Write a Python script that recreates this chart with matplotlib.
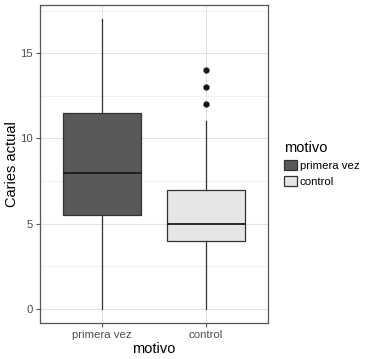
import matplotlib
matplotlib.use("Agg")
import matplotlib.pyplot as plt
from matplotlib.patches import Rectangle

categories = ["primera vez", "control"]
q1 = [5.5, 4.0]
median = [8.0, 5.0]
q3 = [11.5, 7.0]
whisk_lo = [0.0, 0.0]
whisk_hi = [17.0, 11.0]
outliers = [[], [12, 13, 14]]
fills = ["#595959", "#E6E6E6"]
yticks = [0, 5, 10, 15]

plt.rcParams['font.family'] = ['Liberation Sans', 'DejaVu Sans']

fig = plt.figure(figsize=(3.73, 3.59), dpi=100)
ax = fig.add_axes([40/373, 1-323/359, 228/373, 318/359])

stats = []
for i, c in enumerate(categories):
    stats.append(dict(label=c, q1=q1[i], med=median[i], q3=q3[i],
                      whislo=whisk_lo[i], whishi=whisk_hi[i], fliers=outliers[i]))
bp = ax.bxp(stats, positions=[1, 2], widths=0.75, patch_artist=True,
            showcaps=False,
            boxprops=dict(edgecolor="#333333", linewidth=0.9),
            medianprops=dict(color="#1a1a1a", linewidth=1.3),
            whiskerprops=dict(color="#333333", linewidth=0.9),
            flierprops=dict(marker="o", markerfacecolor="#1a1a1a",
                            markeredgecolor="#1a1a1a", markersize=3.5))
for patch, f in zip(bp["boxes"], fills):
    patch.set_facecolor(f)
for m in bp["medians"]:
    m.set_zorder(4)

ax.set_xlim(0.4, 2.6)
ax.set_ylim(-0.85, 17.85)
ax.set_yticks(yticks)
ax.set_yticks([2.5, 7.5, 12.5, 17.5], minor=True)
ax.set_xticks([1, 2])
ax.set_xticklabels(categories)
ax.grid(True, which="major", color="#E3E3E3", linewidth=0.8)
ax.grid(True, which="minor", axis="y", color="#EDEDED", linewidth=0.6)
ax.set_axisbelow(True)
ax.tick_params(axis="both", which="major", length=3, color="#555555",
               labelcolor="#4D4D4D", labelsize=8.2, pad=2)
ax.tick_params(axis="y", which="minor", length=0)
for s in ax.spines.values():
    s.set_color("#555555")
    s.set_linewidth(0.9)
ax.set_xlabel("motivo", fontsize=10.5, color="black")
ax.set_ylabel("Caries actual", fontsize=10.5, color="black")
ax.yaxis.set_label_coords((12 - 40) / 228, 0.5)
ax.xaxis.set_label_coords(0.5, -(349 - 323) / 318)
ax.xaxis.label.set_va("center")
ax.yaxis.label.set_va("center")

# legend
handles = [Rectangle((0, 0), 1, 1, facecolor=f, edgecolor="#333333", linewidth=0.9) for f in fills]
leg = fig.legend(handles, categories, title="motivo", loc="upper left",
                 bbox_to_anchor=(284/373, 1-141/359), frameon=False,
                 fontsize=8.2, title_fontsize=10.5, handlelength=1.1,
                 handleheight=1.0, handletextpad=0.3, labelspacing=0.45,
                 borderaxespad=0, borderpad=0)
leg._legend_box.align = "left"

fig.savefig("out.png", dpi=100)
